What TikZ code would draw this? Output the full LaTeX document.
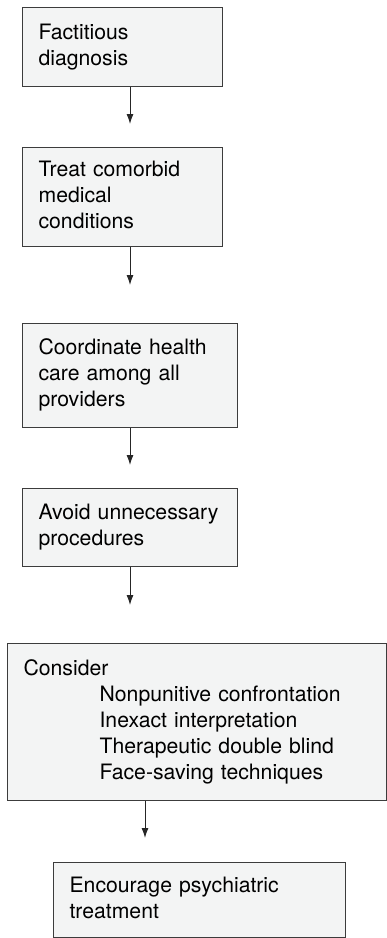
\documentclass[tikz,border=0pt]{standalone}
\usepackage{fontspec}
\setmainfont{TeX Gyre Heros}
\usetikzlibrary{arrows.meta}

\definecolor{boxfill}{RGB}{243,244,244}
\definecolor{boxline}{RGB}{60,60,60}
\newcommand{\tactic}{\hspace*{76pt}}

\begin{document}
\begin{tikzpicture}[
        x=1pt, y=-1pt,
        stepbox/.style 2 args={draw=boxline, fill=boxfill, line width=1.2pt, rectangle, anchor=north west, align=left, inner xsep=16pt, inner ysep=0pt, text width=#1, minimum height=#2, font=\fontsize{21.2}{26}\selectfont, execute at begin node=\strut, execute at end node=\strut},
        arrow/.style={-{Latex[length=10pt,width=7pt]}, line width=1pt, black!85, shorten >=#1},
        arrow/.default=23pt
    ]

    \useasboundingbox (0,0) rectangle (387,938);

    % --- Steps ---
    \node[stepbox={168pt}{79pt}] (diagnosis) at (22,7) {Factitious\\diagnosis};
    \node[stepbox={168pt}{99pt}] (comorbid) at (22,147) {Treat comorbid\\medical\\conditions};
    \node[stepbox={183pt}{104pt}] (coordinate) at (22,323) {Coordinate health\\care among all\\providers};
    \node[stepbox={183pt}{78pt}] (avoid) at (22,488) {Avoid unnecessary\\procedures};
    \node[stepbox={347pt}{157pt}] (consider) at (7,643) {Consider\\
        \tactic Nonpunitive confrontation\\
        \tactic Inexact interpretation\\
        \tactic Therapeutic double blind\\
        \tactic Face-saving techniques};
    \node[stepbox={260pt}{75pt}] (encourage) at (53,862) {Encourage psychiatric\\treatment};

    % --- Arrows ---
    \coordinate (spine) at (130,0);
    \coordinate (lowspine) at (145,0);
    \draw[arrow] (diagnosis.south -| spine) -- (comorbid.north -| spine);
    \draw[arrow=38pt] (comorbid.south -| spine) -- (coordinate.north -| spine);
    \draw[arrow] (coordinate.south -| spine) -- (avoid.north -| spine);
    \draw[arrow=38pt] (avoid.south -| spine) -- (consider.north -| spine);
    \draw[arrow=24pt] (consider.south -| lowspine) -- (encourage.north -| lowspine);

\end{tikzpicture}
\end{document}
